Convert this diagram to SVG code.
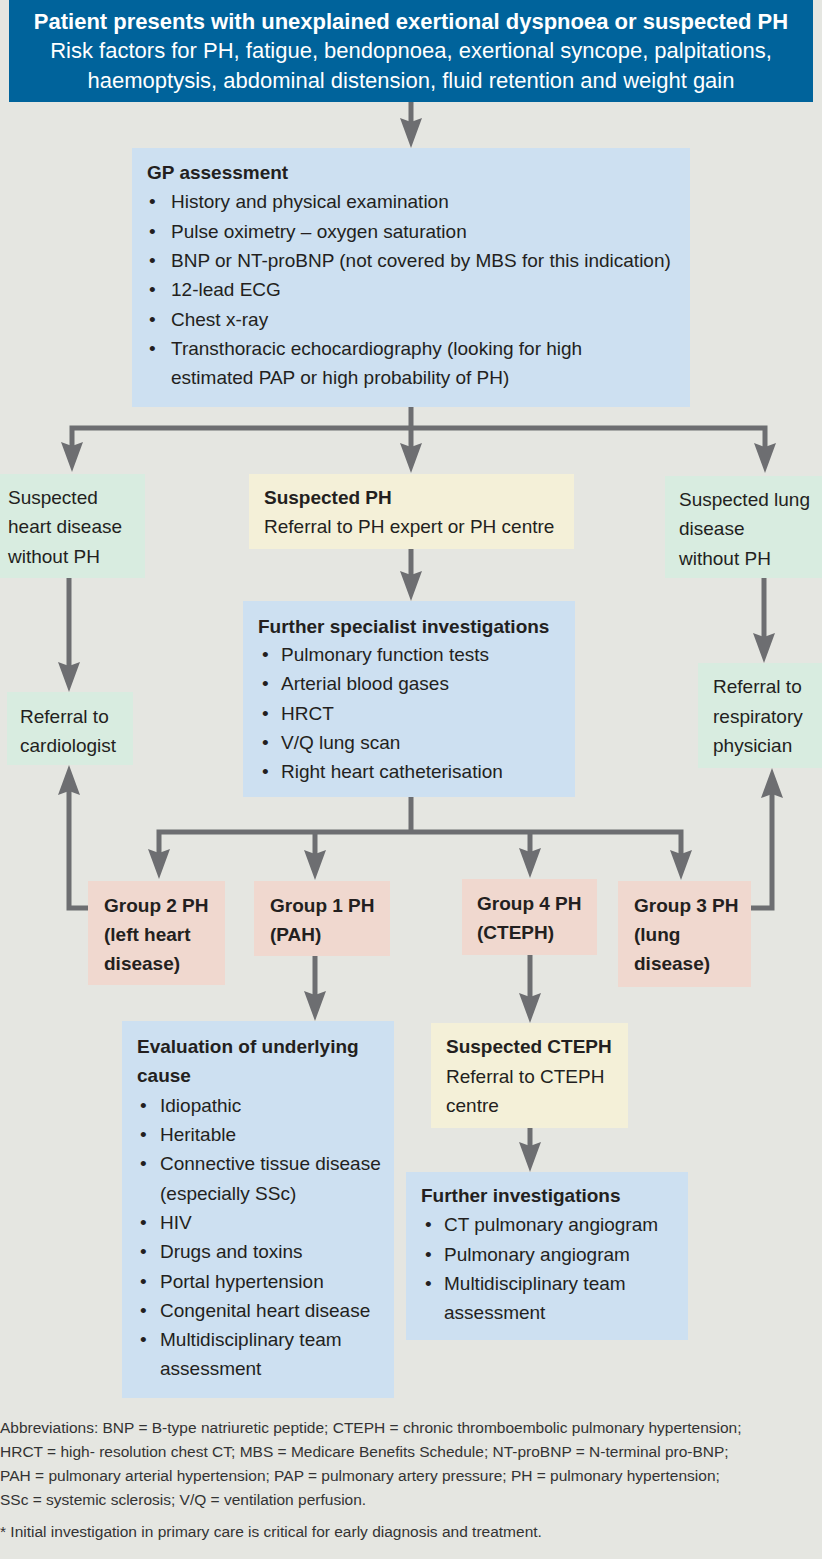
<svg xmlns="http://www.w3.org/2000/svg" width="822" height="1559" viewBox="0 0 822 1559">
<style>
text{font-family:"Liberation Sans",Arial,sans-serif;fill:#231f20;font-size:19px}
.b{font-weight:bold}
.hd{fill:#ffffff;font-size:22px;text-anchor:middle}
.fn{font-size:15.5px;fill:#333333}
.blue{fill:#cde0f1}
.green{fill:#d8ece0}
.yellow{fill:#f4f0d8}
.pink{fill:#f0d8cf}
.c{fill:none;stroke:#6d6e71;stroke-width:5;stroke-linejoin:miter}
.a{marker-end:url(#ah)}
</style>
<defs>
<marker id="ah" viewBox="0 0 30 22" refX="10" refY="11" markerWidth="30" markerHeight="22" markerUnits="userSpaceOnUse" orient="auto">
<path d="M0,0 L30,11 L0,22 L4,11 Z" fill="#6d6e71"/>
</marker>
</defs>
<rect x="0" y="0" width="822" height="1559" fill="#e5e6e1"/>

<g id="connectors">
<path class="c a" d="M411,102 V128"/>
<path class="c a" d="M411,407 V453"/>
<path class="c a" d="M411,428 H72 V452"/>
<path class="c a" d="M411,428 H765 V453"/>
<path class="c a" d="M411,549 V581"/>
<path class="c a" d="M69,578 V672"/>
<path class="c a" d="M764,578 V643"/>
<path class="c" d="M411,797 V832"/>
<path class="c a" d="M411,832 H159 V859"/>
<path class="c a" d="M411,832 H681 V860"/>
<path class="c a" d="M315,832 V860"/>
<path class="c a" d="M530,832 V858"/>
<path class="c a" d="M88,908 H69 V785"/>
<path class="c a" d="M751,908 H772 V788"/>
<path class="c a" d="M315,956 V1001"/>
<path class="c a" d="M530,955 V1003"/>
<path class="c a" d="M530,1128 V1152"/>
</g>

<g id="header">
<rect x="9" y="0" width="804" height="102" fill="#00639b"/>
<text class="hd b" x="411" y="29">Patient presents with unexplained exertional dyspnoea or suspected PH</text>
<text class="hd" x="411" y="58">Risk factors for PH, fatigue, bendopnoea, exertional syncope, palpitations,</text>
<text class="hd" x="411" y="88">haemoptysis, abdominal distension, fluid retention and weight gain</text>
</g>

<g id="gp-assessment">
<rect class="blue" x="132" y="148" width="558" height="259"/>
<text class="b" x="147" y="179">GP assessment</text>
<text x="149" y="208">•</text><text x="171" y="208">History and physical examination</text>
<text x="149" y="238">•</text><text x="171" y="238">Pulse oximetry – oxygen saturation</text>
<text x="149" y="267">•</text><text x="171" y="267">BNP or NT-proBNP (not covered by MBS for this indication)</text>
<text x="149" y="296">•</text><text x="171" y="296">12-lead ECG</text>
<text x="149" y="326">•</text><text x="171" y="326">Chest x-ray</text>
<text x="149" y="355">•</text><text x="171" y="355">Transthoracic echocardiography (looking for high</text>
<text x="171" y="384">estimated PAP or high probability of PH)</text>
</g>

<g id="heart-disease">
<rect class="green" x="0" y="474" width="145" height="104"/>
<text x="8" y="504">Suspected</text>
<text x="8" y="533">heart disease</text>
<text x="8" y="563">without PH</text>
</g>

<g id="suspected-ph">
<rect class="yellow" x="249" y="474" width="325" height="75"/>
<text class="b" x="264" y="504">Suspected PH</text>
<text x="264" y="533">Referral to PH expert or PH centre</text>
</g>

<g id="lung-disease">
<rect class="green" x="665" y="476" width="157" height="102"/>
<text x="679" y="506">Suspected lung</text>
<text x="679" y="535">disease</text>
<text x="679" y="565">without PH</text>
</g>

<g id="specialist">
<rect class="blue" x="243" y="601" width="332" height="196"/>
<text class="b" x="258" y="633">Further specialist investigations</text>
<text x="262" y="661">•</text><text x="281" y="661">Pulmonary function tests</text>
<text x="262" y="690">•</text><text x="281" y="690">Arterial blood gases</text>
<text x="262" y="720">•</text><text x="281" y="720">HRCT</text>
<text x="262" y="749">•</text><text x="281" y="749">V/Q lung scan</text>
<text x="262" y="778">•</text><text x="281" y="778">Right heart catheterisation</text>
</g>

<g id="cardiologist">
<rect class="green" x="7" y="692" width="126" height="73"/>
<text x="20" y="723">Referral to</text>
<text x="20" y="752">cardiologist</text>
</g>

<g id="respiratory">
<rect class="green" x="698" y="663" width="124" height="105"/>
<text x="713" y="693">Referral to</text>
<text x="713" y="723">respiratory</text>
<text x="713" y="752">physician</text>
</g>

<g id="group2">
<rect class="pink" x="88" y="881" width="137" height="104"/>
<text class="b" x="104" y="912">Group 2 PH</text>
<text class="b" x="104" y="941">(left heart</text>
<text class="b" x="104" y="970">disease)</text>
</g>

<g id="group1">
<rect class="pink" x="254" y="881" width="136" height="75"/>
<text class="b" x="270" y="912">Group 1 PH</text>
<text class="b" x="270" y="941">(PAH)</text>
</g>

<g id="group4">
<rect class="pink" x="462" y="879" width="135" height="76"/>
<text class="b" x="477" y="910">Group 4 PH</text>
<text class="b" x="477" y="939">(CTEPH)</text>
</g>

<g id="group3">
<rect class="pink" x="618" y="881" width="133" height="106"/>
<text class="b" x="634" y="912">Group 3 PH</text>
<text class="b" x="634" y="941">(lung</text>
<text class="b" x="634" y="970">disease)</text>
</g>

<g id="evaluation">
<rect class="blue" x="122" y="1021" width="272" height="377"/>
<text class="b" x="137" y="1053">Evaluation of underlying</text>
<text class="b" x="137" y="1082">cause</text>
<text x="140" y="1112">•</text><text x="160" y="1112">Idiopathic</text>
<text x="140" y="1141">•</text><text x="160" y="1141">Heritable</text>
<text x="140" y="1170">•</text><text x="160" y="1170">Connective tissue disease</text>
<text x="160" y="1200">(especially SSc)</text>
<text x="140" y="1229">•</text><text x="160" y="1229">HIV</text>
<text x="140" y="1258">•</text><text x="160" y="1258">Drugs and toxins</text>
<text x="140" y="1288">•</text><text x="160" y="1288">Portal hypertension</text>
<text x="140" y="1317">•</text><text x="160" y="1317">Congenital heart disease</text>
<text x="140" y="1346">•</text><text x="160" y="1346">Multidisciplinary team</text>
<text x="160" y="1375">assessment</text>
</g>

<g id="suspected-cteph">
<rect class="yellow" x="431" y="1023" width="197" height="105"/>
<text class="b" x="446" y="1053">Suspected CTEPH</text>
<text x="446" y="1083">Referral to CTEPH</text>
<text x="446" y="1112">centre</text>
</g>

<g id="further-investigations">
<rect class="blue" x="406" y="1172" width="282" height="168"/>
<text class="b" x="421" y="1202">Further investigations</text>
<text x="425" y="1231">•</text><text x="444" y="1231">CT pulmonary angiogram</text>
<text x="425" y="1261">•</text><text x="444" y="1261">Pulmonary angiogram</text>
<text x="425" y="1290">•</text><text x="444" y="1290">Multidisciplinary team</text>
<text x="444" y="1319">assessment</text>
</g>

<g id="footnotes">
<text class="fn" x="0" y="1433">Abbreviations: BNP = B-type natriuretic peptide; CTEPH = chronic thromboembolic pulmonary hypertension;</text>
<text class="fn" x="0" y="1457">HRCT = high- resolution chest CT; MBS = Medicare Benefits Schedule; NT-proBNP = N-terminal pro-BNP;</text>
<text class="fn" x="0" y="1481">PAH = pulmonary arterial hypertension; PAP = pulmonary artery pressure; PH = pulmonary hypertension;</text>
<text class="fn" x="0" y="1505">SSc = systemic sclerosis; V/Q = ventilation perfusion.</text>
<text class="fn" x="0" y="1537">* Initial investigation in primary care is critical for early diagnosis and treatment.</text>
</g>
</svg>
